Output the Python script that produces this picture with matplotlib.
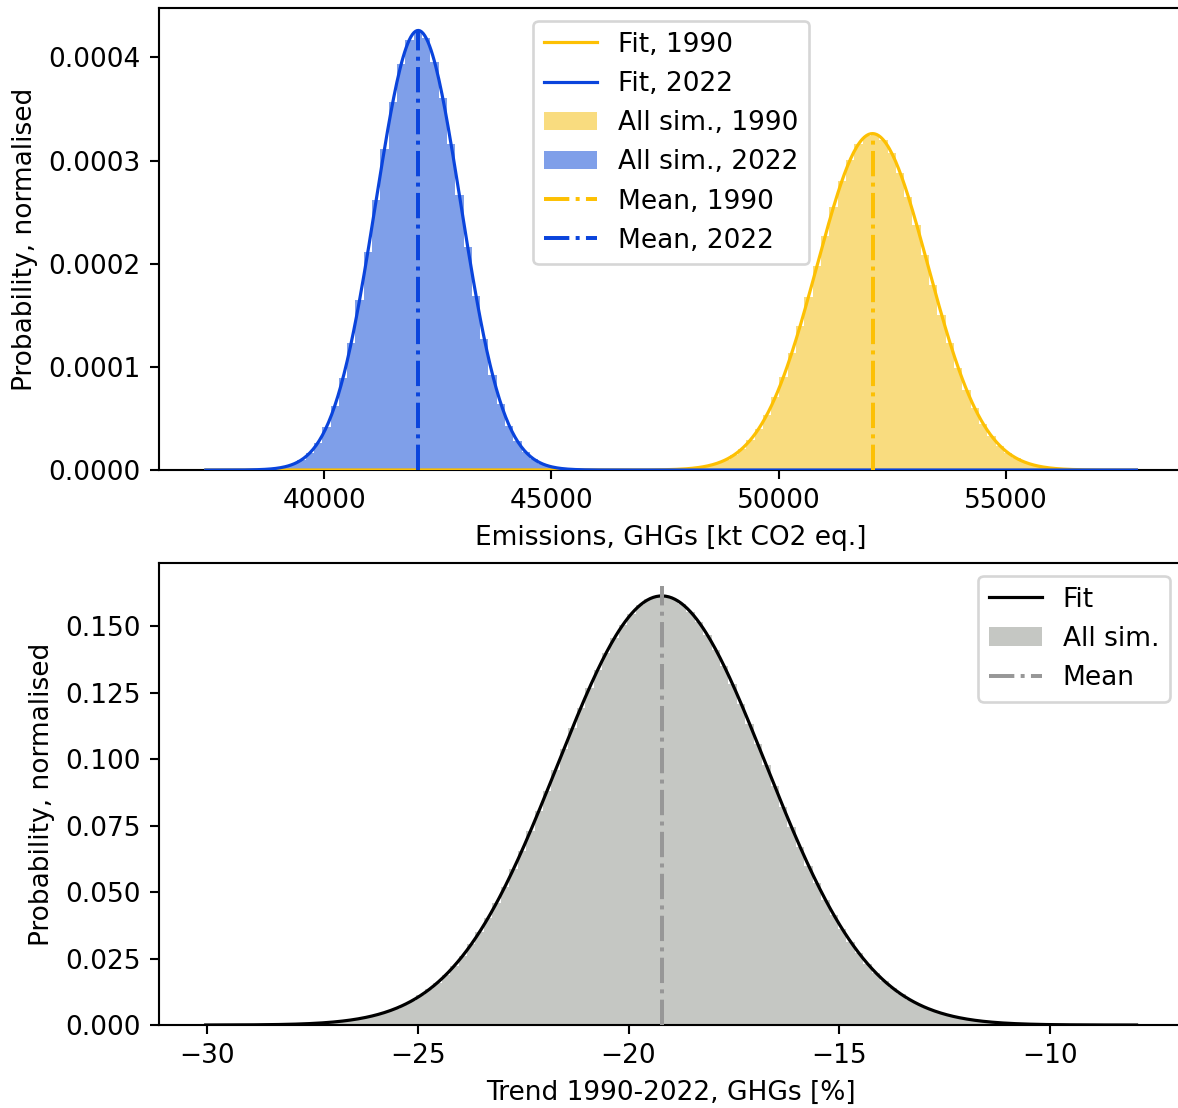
import numpy as np
import matplotlib
matplotlib.use("Agg")
import matplotlib.pyplot as plt

# ---------------- data ----------------
# top panel: shared bin width of the emission histograms [kt CO2 eq.]
emis_bin_width = 183.0
# 2022 histogram: first bin edge and normalised heights (x1e-6)
hist2022_first_edge = 38855.0
hist2022_heights_e6 = [1.65, 3.1, 5.6, 9.8, 16.5, 26.6, 41.4, 61.9, 89.2, 123.6,
                       164.9, 211.8, 261.8, 311.5, 356.7, 393.2, 417.2, 426.0, 418.7, 396.1,
                       360.6, 316.0, 266.5, 216.4, 169.1, 127.2, 92.1, 64.2, 43.0, 27.8,
                       17.2, 10.3, 5.9, 3.3, 1.75, 0.9]
# 1990 histogram
hist1990_first_edge = 47822.0
hist1990_heights_e6 = [1.0, 1.7, 2.7, 4.2, 6.5, 9.8, 14.4, 20.7, 29.1, 40.0,
                       53.7, 70.6, 90.6, 113.9, 140.0, 168.1, 197.5, 226.9, 254.8, 279.9,
                       300.6, 315.7, 324.3, 325.6, 319.8, 307.1, 288.4, 264.8, 237.8, 208.8,
                       179.3, 150.5, 123.6, 99.2, 77.9, 59.8, 44.9, 33.0, 23.6, 16.6,
                       11.4, 7.6, 5.0, 3.2, 2.0, 1.2, 0.7, 0.4]
# fitted normal distributions (mean, standard deviation) and fit range
mean_1990, sd_1990 = 52066.0, 1223.0
mean_2022, sd_2022 = 42066.0, 936.0
emis_fit_range = (37391.0, 57875.0)
# heights reached by the mean markers
mean_top_1990 = 0.000326
mean_top_2022 = 0.000427

# bottom panel: trend 1990-2022 [%]
trend_bin_width = 0.2
trend_first_edge = -29.23
trend_heights = [0.00003, 0.00005, 0.00008, 0.00012, 0.00017, 0.00024, 0.00032, 0.00043,
                 0.00056, 0.00074, 0.00096, 0.00123, 0.00158, 0.00202, 0.00256, 0.00321,
                 0.00402, 0.00499, 0.00616, 0.00755, 0.00919, 0.01111, 0.01336, 0.01595,
                 0.01892, 0.02229, 0.02610, 0.03036, 0.03507, 0.04026, 0.04592, 0.05204,
                 0.05857, 0.06550, 0.07278, 0.08033, 0.08809, 0.09597, 0.10388, 0.1117,
                 0.1193, 0.1266, 0.1335, 0.1399, 0.1456, 0.1505, 0.1546, 0.1578,
                 0.1600, 0.1611, 0.1612, 0.1603, 0.1583, 0.1553, 0.1514, 0.1466,
                 0.1411, 0.1348, 0.1281, 0.1208, 0.1132, 0.1055, 0.0976, 0.0897,
                 0.0819, 0.0743, 0.0669, 0.0599, 0.0533, 0.0471, 0.0414, 0.0361,
                 0.0313, 0.0269, 0.0230, 0.0196, 0.0165, 0.0138, 0.0115, 0.0095,
                 0.0079, 0.0064, 0.0052, 0.0042, 0.0034, 0.0027, 0.0021, 0.0017,
                 0.0013, 0.0010, 0.00078, 0.00059, 0.00045, 0.00034, 0.00025, 0.00018,
                 0.00013]
mean_trend, sd_trend = -19.21, 2.473
trend_fit_range = (-30.03, -7.95)
mean_top_trend = 0.165

emis_xticks = [40000, 45000, 50000, 55000]
emis_yticks = [0.0, 0.0001, 0.0002, 0.0003, 0.0004]
trend_xticks = [-30, -25, -20, -15, -10]
trend_yticks = [0.0, 0.025, 0.05, 0.075, 0.1, 0.125, 0.15]

labels_top = ["Fit, 1990", "Fit, 2022", "All sim., 1990", "All sim., 2022",
              "Mean, 1990", "Mean, 2022"]
labels_bottom = ["Fit", "All sim.", "Mean"]

# ---------------- styles ----------------
C_Y_LINE = "#FDC003"
C_Y_FILL = "#F9DC7F"
C_B_LINE = "#0A44DC"
C_B_FILL = "#7F9FE9"
C_G_FILL = "#C5C7C3"
C_G_MEAN = "#979797"

DPI = 190
fig = plt.figure(figsize=(1178 / DPI, 1108 / DPI), dpi=DPI)
ax1 = fig.add_axes([0.1352, 0.5758, 0.869, 0.417])
ax2 = fig.add_axes([0.1352, 0.0749, 0.869, 0.417])


def normal_pdf(x, m, s):
    return np.exp(-0.5 * ((x - m) / s) ** 2) / (s * np.sqrt(2 * np.pi))


# ---------------- top panel ----------------
h22 = np.array(hist2022_heights_e6) * 1e-6
h90 = np.array(hist1990_heights_e6) * 1e-6
e22 = hist2022_first_edge + emis_bin_width * np.arange(len(h22))
e90 = hist1990_first_edge + emis_bin_width * np.arange(len(h90))

xf = np.linspace(emis_fit_range[0], emis_fit_range[1], 600)
lf90, = ax1.plot(xf, normal_pdf(xf, mean_1990, sd_1990), color=C_Y_LINE, lw=1.2, zorder=3)
lf22, = ax1.plot(xf, normal_pdf(xf, mean_2022, sd_2022), color=C_B_LINE, lw=1.2, zorder=3)
b90 = ax1.bar(e90, h90, width=emis_bin_width, align="edge", color=C_Y_FILL, linewidth=0, zorder=1)
b22 = ax1.bar(e22, h22, width=emis_bin_width, align="edge", color=C_B_FILL, linewidth=0, zorder=1)
m90, = ax1.plot([mean_1990, mean_1990], [0, mean_top_1990], color=C_Y_LINE, lw=1.5, ls="-.", zorder=4)
m22, = ax1.plot([mean_2022, mean_2022], [0, mean_top_2022], color=C_B_LINE, lw=1.5, ls="-.", zorder=4)

ax1.set_xlim(36367, 58899)
ax1.set_ylim(0, 0.000448)
ax1.set_xticks(emis_xticks)
ax1.set_yticks(emis_yticks)
ax1.set_yticklabels([f"{v:.4f}" for v in emis_yticks])
ax1.set_xlabel("Emissions, GHGs [kt CO2 eq.]")
ax1.set_ylabel("Probability, normalised")
ax1.legend([lf90, lf22, b90, b22, m90, m22], labels_top, loc="upper center")

# ---------------- bottom panel ----------------
ht = np.array(trend_heights)
et = trend_first_edge + trend_bin_width * np.arange(len(ht))
xt = np.linspace(trend_fit_range[0], trend_fit_range[1], 600)
lft, = ax2.plot(xt, normal_pdf(xt, mean_trend, sd_trend), color="black", lw=1.2, zorder=3)
bt = ax2.bar(et, ht, width=trend_bin_width, align="edge", color=C_G_FILL, linewidth=0, zorder=1)
mt, = ax2.plot([mean_trend, mean_trend], [0, mean_top_trend], color=C_G_MEAN, lw=1.5, ls="-.", zorder=4)

ax2.set_xlim(-31.13, -6.85)
ax2.set_ylim(0, 0.1737)
ax2.set_xticks(trend_xticks)
ax2.set_yticks(trend_yticks)
ax2.set_yticklabels([f"{v:.3f}" for v in trend_yticks])
ax2.set_xlabel("Trend 1990-2022, GHGs [%]")
ax2.set_ylabel("Probability, normalised")
ax2.legend([lft, bt, mt], labels_bottom, loc="upper right")

fig.savefig("out.png", dpi=DPI)
